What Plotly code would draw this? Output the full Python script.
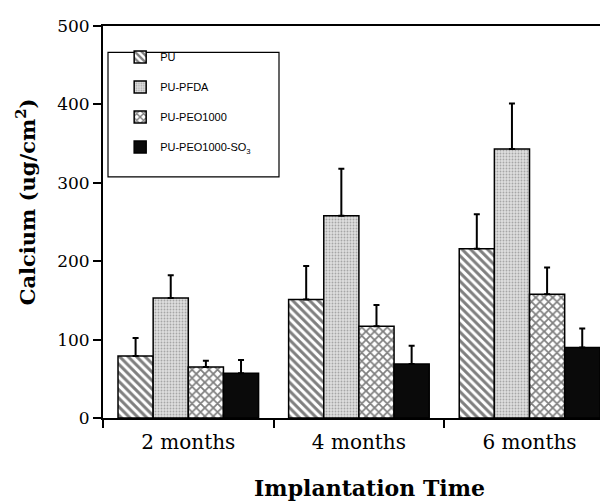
import plotly.graph_objects as go

categories = ["2 months", "4 months", "6 months"]
series_names = ["PU", "PU-PFDA", "PU-PEO1000", "PU-PEO1000-SO<sub>3</sub>"]
pu = [79, 151, 216]
pu_err = [23, 43, 44]
pfda = [153, 258, 343]
pfda_err = [29, 60, 58]
peo = [65, 117, 158]
peo_err = [8, 27, 34]
so3 = [57, 69, 90]
so3_err = [17, 23, 24]
y_ticks = [0, 100, 200, 300, 400, 500]

values = [pu, pfda, peo, so3]
errors = [pu_err, pfda_err, peo_err, so3_err]
patterns = [
    dict(shape="\\", fgcolor="black", bgcolor="white", size=6, solidity=0.5),
    dict(shape=".", fgcolor="#6e6e6e", bgcolor="#dedede", size=3, solidity=0.3),
    dict(shape="x", fgcolor="black", bgcolor="white", size=6, solidity=0.5),
    dict(shape="", fgcolor="black", bgcolor="#0a0a0a"),
]
colors = ["white", "#dedede", "white", "#0a0a0a"]

# page body has an 8px margin; plot area is placed so it lands at x=103..608, y=18..418
OFF = 8
L, T, PW, PH = 103 - OFF, 18 - OFF, 505, 400

fig = go.Figure()
for i, (name, v, e) in enumerate(zip(series_names, values, errors)):
    fig.add_trace(go.Bar(
        name=name, x=categories, y=v,
        legendgroup=f"g{i}",
        marker=dict(color=colors[i], line=dict(color="black", width=1.5),
                    pattern=patterns[i]),
        error_y=dict(type="data", symmetric=False, array=e, arrayminus=[0] * len(e),
                     color="black", thickness=2, width=3),
    ))

serif = "DejaVu Serif"
fig.update_layout(
    width=608, height=503,
    margin=dict(l=L, r=608 - L - PW, t=T, b=503 - T - PH),
    paper_bgcolor="white", plot_bgcolor="white",
    barmode="group", bargap=0.176, bargroupgap=0,
    showlegend=True,
    legend=dict(x=0.034, y=0.958, xanchor="left", yanchor="top",
                bgcolor="rgba(0,0,0,0)", borderwidth=0,
                font=dict(family="Liberation Sans Narrow, Liberation Sans, Arial", size=11, color="black"),
                tracegroupgap=11, itemwidth=30),
    xaxis=dict(range=[-0.5, 2.46], showline=True, linecolor="black", linewidth=2,
               mirror=True, ticks="outside", tickson="boundaries", ticklen=8,
               tickwidth=1.5, tickcolor="black", ticklabelstandoff=5,
               tickfont=dict(family=serif, size=20, color="black"),
               title=dict(text="&nbsp;&nbsp;&nbsp;&nbsp;<b>Implantation Time</b>", standoff=28,
                          font=dict(family=serif, size=22, color="black"))),
    yaxis=dict(range=[0, 500], tickvals=y_ticks, showline=True, linecolor="black",
               linewidth=2, ticks="outside", ticklen=8, tickwidth=1.5, tickcolor="black",
               showgrid=False, zeroline=False, ticklabeloverflow="allow",
               tickfont=dict(family=serif, size=17, color="black"),
               title=dict(text="&nbsp;&nbsp;&nbsp;&nbsp;&nbsp;&nbsp;<b>Calcium (ug/cm<sup>2</sup>)</b>",
                          standoff=16,
                          font=dict(family=serif, size=21, color="black"))),
    shapes=[dict(type="rect", xref="paper", yref="paper",
                 x0=(108 - 103) / 505, x1=(279 - 103) / 505,
                 y0=(418 - 172) / 400, y1=(418 - 45) / 400,
                 line=dict(color="black", width=1.2))],
)

fig.write_html("out.html")
